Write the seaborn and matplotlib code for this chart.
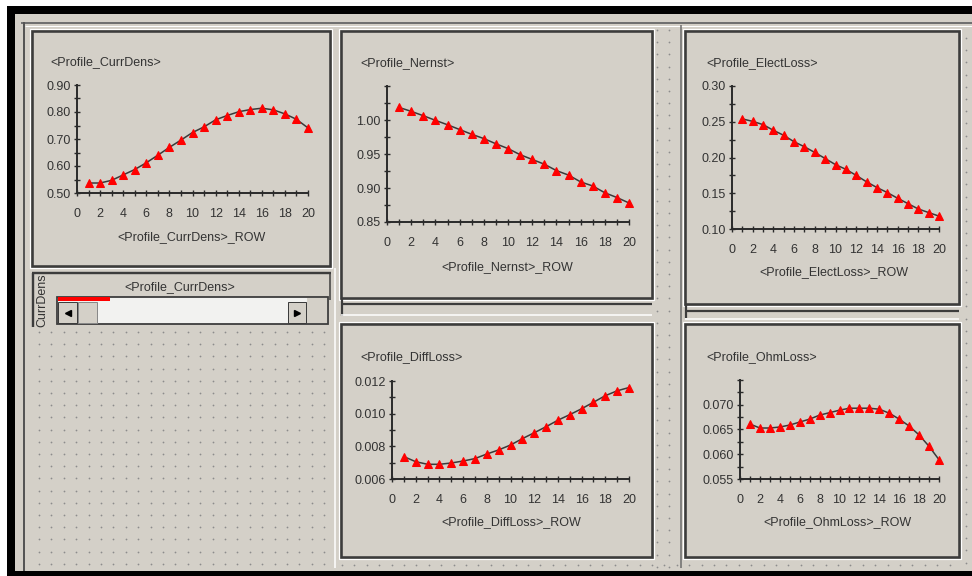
import matplotlib
matplotlib.use("Agg")
import matplotlib.pyplot as plt
import seaborn as sns
import numpy as np
import pandas as pd
from matplotlib.patches import Rectangle
from matplotlib.ticker import MultipleLocator, FuncFormatter

# ---------------- data ----------------
rows = list(range(1, 21))
curr_dens = [0.537, 0.537, 0.547, 0.567, 0.587, 0.612, 0.640, 0.669, 0.696, 0.724,
             0.745, 0.771, 0.787, 0.801, 0.809, 0.814, 0.808, 0.793, 0.773, 0.741]
nernst = [1.0185, 1.0127, 1.0063, 0.9995, 0.993, 0.986, 0.979, 0.9727, 0.965, 0.958,
          0.949, 0.942, 0.935, 0.9256, 0.919, 0.909, 0.903, 0.893, 0.886, 0.878]
elect_loss = [0.254, 0.2505, 0.246, 0.238, 0.231, 0.222, 0.215, 0.207, 0.1986, 0.190,
              0.1835, 0.175, 0.166, 0.158, 0.151, 0.143, 0.1355, 0.128, 0.123, 0.118]
diff_loss = [0.00737, 0.00706, 0.0069, 0.0069, 0.00698, 0.0071, 0.00725, 0.00753, 0.00778, 0.00808,
             0.00847, 0.00883, 0.0092, 0.0096, 0.00994, 0.0103, 0.0107, 0.0111, 0.0114, 0.0116]
ohm_loss = [0.0661, 0.0653, 0.0653, 0.0655, 0.0659, 0.0665, 0.0671, 0.0679, 0.0684, 0.0689,
            0.0693, 0.0693, 0.0693, 0.0691, 0.0683, 0.0671, 0.0657, 0.0639, 0.0616, 0.0589]

titles = ["<Profile_CurrDens>", "<Profile_Nernst>", "<Profile_ElectLoss>",
          "<Profile_DiffLoss>", "<Profile_OhmLoss>"]
xlabels = [t + "_ROW" for t in titles]
scroll_title = "<Profile_CurrDens>"
scroll_side = "CurrDens"

# ---------------- style ----------------
sns.set_theme(style="white")
plt.rcParams["font.family"] = ["Liberation Sans", "DejaVu Sans"]
W, H = 972, 576
BG = "#d4d0c8"
DARK = "#3c3c3c"
TXT = "#333333"
FS = 9
PX = 0.72  # points per pixel at 100 dpi

fig = plt.figure(figsize=(9.72, 5.76), dpi=100, facecolor=BG)
bg = fig.add_axes([0, 0, 1, 1], zorder=0)
bg.set_xlim(0, W)
bg.set_ylim(H, 0)
bg.axis("off")


def rect(x0, y0, x1, y1, fc="none", ec="none", lw=0.0, z=1):
    bg.add_patch(Rectangle((x0, y0), x1 - x0, y1 - y0, facecolor=fc,
                           edgecolor=ec, lw=lw, zorder=z))


def hline(y, x0, x1, c=DARK, w=2.0, z=2):
    bg.plot([x0, x1], [y, y], color=c, lw=w * PX, zorder=z, solid_capstyle="butt")


def vline(x, y0, y1, c=DARK, w=2.0, z=2):
    bg.plot([x, x], [y0, y1], color=c, lw=w * PX, zorder=z, solid_capstyle="butt")


def frame(x0, y0, x1, y1):
    rect(x0 - 2, y0 - 2, x1 + 2, y1 + 2, ec="white", lw=1.2 * PX)
    rect(x0, y0, x1, y1, ec=DARK, lw=2.6 * PX, z=2)


def dots(xs, ys):
    gx, gy = np.meshgrid(xs, ys)
    bg.scatter(gx.ravel(), gy.ravel(), s=1.6, color="#8c8c8c", lw=0, zorder=1)


# window borders
rect(0, 0, W, 6, fc="white")
rect(0, 0, 7, H, fc="white")
rect(7, 6, W, 14, fc="black", z=5)
rect(7, 6, 15, H, fc="black", z=5)
rect(7, 571, W, H, fc="black", z=5)
hline(22.5, 21, W, c="#707070", w=2)
vline(23.5, 22, 571, c="#555555", w=2)
hline(26, 25, W, c="white", w=1)

# dotted areas
dots(np.arange(39, 330, 12.4), np.arange(332, 569, 12.2))
dots([657, 669], np.arange(30, 569, 12.2))
dots([966], np.arange(38, 569, 12.2))
dots(np.arange(342, 962, 12.4), [565])

# panel frames
frame(32, 31, 330, 266)
frame(341, 31, 652, 298)
frame(685, 31, 959, 304)
frame(341, 324, 652, 557)
frame(685, 324, 959, 557)
# partly hidden widgets below the top panels
hline(304, 341, 652, w=2.2)
vline(342, 298, 316, w=2.2)
hline(315, 341, 652, c="white", w=1.5)
hline(311, 685, 959, w=2.2)
vline(686, 304, 318, w=2.2)
hline(319, 685, 959, c="white", w=1.5)
vline(681, 25, 568, c="#6a6a6a", w=1.5)
vline(335, 268, 568, c="white", w=1.5)

# scrollbar widget under the first chart
rect(33, 273, 330, 327, fc=BG)
hline(273, 32, 331, w=2.4)
vline(33, 273, 327, w=2.4)
vline(330, 273, 300, w=1.5)
bg.text(180, 287, scroll_title, ha="center", va="center", fontsize=FS, color=TXT)
bg.text(42, 300, scroll_side, ha="center", va="center", rotation=90,
        fontsize=FS, color=TXT, zorder=3)
rect(57, 297, 328, 324, fc="#f2f2f0", ec=DARK, lw=1.8 * PX, z=3)
rect(58, 302, 77, 323, fc=BG, ec=DARK, lw=1.0 * PX, z=3)
rect(78, 302, 97, 323, fc=BG, ec="#888888", lw=1.0 * PX, z=3)
rect(288, 302, 306, 323, fc=BG, ec=DARK, lw=1.0 * PX, z=3)
rect(307, 298, 327, 323, fc=BG, z=3)
rect(58, 297, 110, 301, fc="#ff0000", z=4)
bg.plot([67.5], [312.5], marker="<", ms=4, color="black", zorder=4)
bg.plot([297], [312.5], marker=">", ms=4, color="black", zorder=4)

# ---------------- charts ----------------
panels = [
    dict(vals=curr_dens, box=(77, 85, 308, 193), ylim=(0.50, 0.90), step=0.10,
         fmt="{:.2f}", hide_top=False, tpos=(50, 62), lpos=(191, 237)),
    dict(vals=nernst, box=(387, 86, 629, 222), ylim=(0.85, 1.05), step=0.05,
         fmt="{:.2f}", hide_top=True, tpos=(360, 63), lpos=(507, 267)),
    dict(vals=elect_loss, box=(732, 86, 939, 229), ylim=(0.10, 0.30), step=0.05,
         fmt="{:.2f}", hide_top=False, tpos=(706, 63), lpos=(834, 272)),
    dict(vals=diff_loss, box=(392, 381, 629, 479), ylim=(0.006, 0.012), step=0.002,
         fmt="{:.3f}", hide_top=False, tpos=(360, 357), lpos=(511, 522)),
    dict(vals=ohm_loss, box=(740, 380, 939, 479), ylim=(0.055, 0.075), step=0.005,
         fmt="{:.3f}", hide_top=True, tpos=(706, 357), lpos=(837, 522)),
]

for p, title, xlab in zip(panels, titles, xlabels):
    x0, y0, x1, y1 = p["box"]
    ax = fig.add_axes([x0 / W, 1 - y1 / H, (x1 - x0) / W, (y1 - y0) / H], zorder=3)
    ax.patch.set_alpha(0)
    df = pd.DataFrame({"row": rows, "value": p["vals"]})
    sns.lineplot(data=df, x="row", y="value", ax=ax, color="#3a3a3a", lw=1.1,
                 marker="^", markersize=6, markerfacecolor="#ff0000",
                 markeredgecolor="#ff0000", clip_on=False, zorder=5)
    lo, hi = p["ylim"]
    ax.set_xlim(0, 20)
    ax.set_ylim(lo, hi)
    ax.xaxis.set_major_locator(MultipleLocator(2))
    ax.xaxis.set_minor_locator(MultipleLocator(1))
    ax.yaxis.set_major_locator(MultipleLocator(p["step"]))
    ax.yaxis.set_minor_locator(MultipleLocator(p["step"] / 2))
    fmt, hide = p["fmt"], p["hide_top"]
    ax.yaxis.set_major_formatter(FuncFormatter(
        lambda v, pos, fmt=fmt, hide=hide, hi=hi:
        "" if hide and abs(v - hi) < 1e-9 else fmt.format(v)))
    for s in ("top", "right"):
        ax.spines[s].set_visible(False)
    for s in ("left", "bottom"):
        ax.spines[s].set_color("#2a2a2a")
        ax.spines[s].set_linewidth(1.4)
    ax.tick_params(which="both", direction="inout", length=5, width=1.0,
                   color="#2a2a2a", labelsize=FS, labelcolor=TXT,
                   left=True, bottom=True)
    ax.tick_params(axis="x", which="both", pad=8)
    ax.tick_params(axis="y", which="both", pad=2)
    ax.set_ylabel("")
    ax.set_xlabel(xlab, fontsize=FS, color=TXT)
    cx, cy = p["lpos"]
    ax.xaxis.set_label_coords((cx - x0) / (x1 - x0), (y1 - cy) / (y1 - y0))
    ax.xaxis.label.set_va("center")
    tx, ty = p["tpos"]
    fig.text(tx / W, 1 - ty / H, title, ha="left", va="center",
             fontsize=FS, color=TXT)

fig.savefig("out.png", dpi=100, facecolor=BG)
